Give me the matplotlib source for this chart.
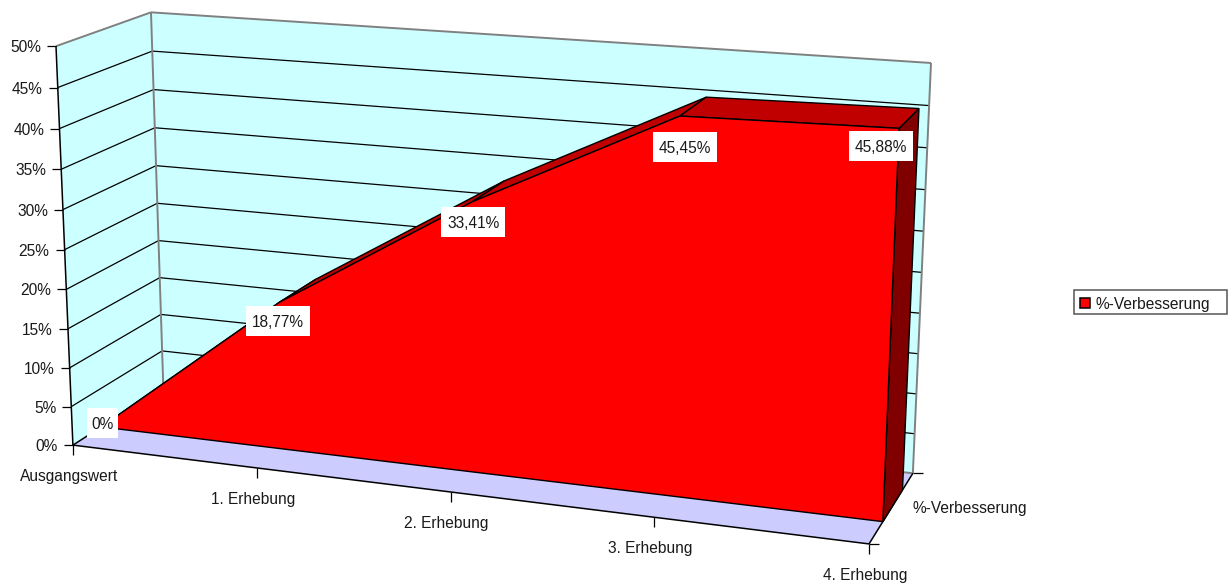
import numpy as np
import matplotlib
matplotlib.use('Agg')
import matplotlib.pyplot as plt
from matplotlib.patches import Polygon, Rectangle

plt.rcParams['font.family'] = ['Liberation Sans', 'DejaVu Sans']

categories = ['Ausgangswert', '1. Erhebung', '2. Erhebung', '3. Erhebung', '4. Erhebung']
series_name = '%-Verbesserung'
improvement = [0, 18.77, 33.41, 45.45, 45.88]
value_labels = ['0%', '18,77%', '33,41%', '45,45%', '45,88%']
value_ticks = [0, 5, 10, 15, 20, 25, 30, 35, 40, 45, 50]

WALL = '#CCFFFF'
FLOOR = '#CCCCFF'
FRONT = '#FF0000'
TOP = '#C00000'
SIDE = '#800000'
EDGE = '#808080'
INK = '#1a1a1a'

# glubina: front and back of the area inside the chart box
Z_FRONT, Z_BACK = 0.30, 0.75
X_MAX, Y_MAX = len(categories) - 1, value_ticks[-1]

# camera calibration: box coordinates -> canvas pixels
box_pts = np.array([(0, 0, 0), (0, 50, 0), (0, 50, 1), (0, 5, 1), (4, 0, 0), (4, 0, 1),
                    (4, 50, 1), (1, 0, 0), (2, 0, 0), (3, 0, 0)], float)
canvas_pts = np.array([(73, 445), (56, 46), (151, 12.5), (162, 351), (869, 544), (913, 473),
                       (931, 63), (257, 468), (451, 492), (654, 517.5)], float)


def fit_camera(pts, px):
    rows = []
    for (x, y, z), (u, v) in zip(pts, px):
        rows.append([x, y, z, 1, 0, 0, 0, 0, -u*x, -u*y, -u*z, -u])
        rows.append([0, 0, 0, 0, x, y, z, 1, -v*x, -v*y, -v*z, -v])
    return np.linalg.svd(np.array(rows))[2][-1].reshape(3, 4)


camera = fit_camera(box_pts, canvas_pts)


# 3D point of the chart box to canvas position
def proj(x, y, z):
    u, v, w = camera @ np.array([x, y, z, 1.0])
    return u/w, v/w


def poly(ax, pts, color, edge='black', lw=1.0, z=1):
    ax.add_patch(Polygon([proj(*p) for p in pts], closed=True, facecolor=color,
                         edgecolor=edge, linewidth=lw, joinstyle='miter', zorder=z))


def line(ax, a, b, color='black', lw=0.9, z=2):
    ax.plot(*zip(a, b), color=color, lw=lw, zorder=z, solid_capstyle='butt')


fig = plt.figure(figsize=(12.31, 5.83), dpi=100)
ax = fig.add_axes([0, 0, 1, 1])
ax.set_xlim(0, 1231)
ax.set_ylim(583, 0)
ax.axis('off')

# walls and floor
poly(ax, [(0, 0, 0), (0, Y_MAX, 0), (0, Y_MAX, 1), (0, 0, 1)], WALL, 'none')
poly(ax, [(0, 0, 1), (0, Y_MAX, 1), (X_MAX, Y_MAX, 1), (X_MAX, 0, 1)], WALL, 'none')
poly(ax, [(0, 0, 0), (X_MAX, 0, 0), (X_MAX, 0, 1), (0, 0, 1)], FLOOR, 'none')

# gridlines
for t in value_ticks[1:-1]:
    line(ax, proj(0, t, 0), proj(0, t, 1))
    line(ax, proj(0, t, 1), proj(X_MAX, t, 1))

# wall outlines
line(ax, proj(0, 0, 1), proj(0, Y_MAX, 1), EDGE, 1.4)
line(ax, proj(0, Y_MAX, 0), proj(0, Y_MAX, 1), EDGE, 1.4)
line(ax, proj(0, Y_MAX, 1), proj(X_MAX, Y_MAX, 1), EDGE, 1.4)
line(ax, proj(X_MAX, 0, 1), proj(X_MAX, Y_MAX, 1), EDGE, 1.4)
line(ax, proj(0, 0, 1), proj(X_MAX, 0, 1), EDGE, 1.4)

# box axes
line(ax, proj(0, 0, 0), proj(0, Y_MAX, 0), 'black', 1.1, 3)
line(ax, proj(0, 0, 0), proj(X_MAX, 0, 0), 'black', 1.1, 3)
line(ax, proj(X_MAX, 0, 0), proj(X_MAX, 0, 1), 'black', 1.1, 3)
line(ax, proj(0, 0, 0), proj(0, 0, 1), 'black', 1.1, 3)

# area body: side, top strips, front
x_cat = np.arange(len(categories))
poly(ax, [(X_MAX, 0, Z_FRONT), (X_MAX, improvement[-1], Z_FRONT),
          (X_MAX, improvement[-1], Z_BACK), (X_MAX, 0, Z_BACK)], SIDE, z=4)
for i in range(len(categories) - 1):
    poly(ax, [(x_cat[i], improvement[i], Z_FRONT), (x_cat[i+1], improvement[i+1], Z_FRONT),
              (x_cat[i+1], improvement[i+1], Z_BACK), (x_cat[i], improvement[i], Z_BACK)], TOP, z=4)
front = [(0, 0, Z_FRONT)] + [(x, v, Z_FRONT) for x, v in zip(x_cat, improvement)] + [(X_MAX, 0, Z_FRONT)]
poly(ax, front, FRONT, z=5)

# value axis ticks and labels
for t in value_ticks:
    u, v = proj(0, t, 0)
    line(ax, (u - 9, v), (u, v), 'black', 0.9, 3)
    ax.text(u - 15, v, f'{t}%', ha='right', va='center_baseline', fontsize=11.2, color=INK)

# category ticks and labels
for x, name in zip(x_cat, categories):
    u, v = proj(x, 0, 0)
    line(ax, (u, v), (u, v + 10), 'black', 0.9, 3)
    ax.text(u - 4, v + 30, name, ha='center', va='center_baseline', fontsize=11.2, color=INK)
u, v = proj(X_MAX, 0, 0)
line(ax, (u, v), (u + 10, v), 'black', 0.9, 3)
u, v = proj(X_MAX, 0, 1)
line(ax, (u, v), (u + 10, v), 'black', 0.9, 3)
ax.text(u, v + 34, series_name, ha='left', va='center_baseline', fontsize=11.2, color=INK)

# data labels on white boxes, shifted off the area corner
label_shift = [(1, -4), (-1, 19), (1, 20), (5, 31), (-18, 18)]
label_width = [31, 64, 64, 64, 64]
for x, val, txt, (dx, dy), w in zip(x_cat, improvement, value_labels, label_shift, label_width):
    u, v = proj(x, val, Z_FRONT)
    ax.add_patch(Rectangle((u + dx - w/2, v + dy - 15), w, 30, facecolor='white', edgecolor='none', zorder=6))
    ax.text(u + dx, v + dy, txt, ha='center', va='center_baseline', fontsize=11.2, color=INK, zorder=7)

# legend
ax.add_patch(Rectangle((1074, 290), 153, 24, facecolor='white', edgecolor='#555555', linewidth=1.1, zorder=6))
ax.add_patch(Rectangle((1080, 298), 10, 10, facecolor=FRONT, edgecolor='black', linewidth=1.1, zorder=7))
ax.text(1095, 303, series_name, ha='left', va='center_baseline', fontsize=11.2, color=INK, zorder=7)

fig.savefig('out.png', dpi=100)
